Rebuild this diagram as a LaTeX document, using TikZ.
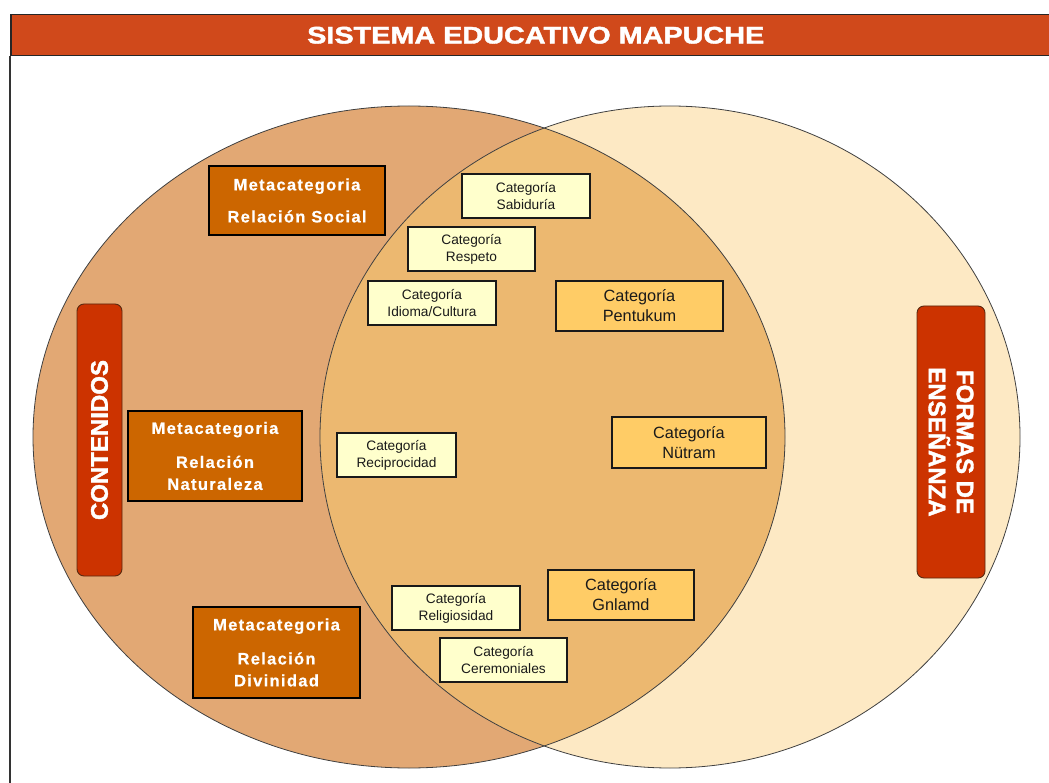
\documentclass[tikz,border=0pt]{standalone}
\usepackage{fontspec}
\setmainfont{Liberation Sans}
\newfontfamily\spacedfont[LetterSpace=8,BoldFeatures={FakeBold=0.6}]{Liberation Sans}
\newfontfamily\heavyfont[BoldFeatures={FakeBold=1.6}]{Liberation Sans}
\definecolor{hdrred}{HTML}{D0491B}
\definecolor{leftfill}{HTML}{E2A874}
\definecolor{rightfill}{HTML}{FDE9C4}
\definecolor{overfill}{HTML}{ECB870}
\definecolor{metafill}{HTML}{CC6600}
\definecolor{catfill}{HTML}{FFFFCC}
\definecolor{catyfill}{HTML}{FFCC66}
\definecolor{pillfill}{HTML}{CC3300}
\definecolor{pilledge}{HTML}{5A2A10}
\definecolor{txtdark}{HTML}{1A1A1A}
\begin{document}
\begin{tikzpicture}[x=1pt,y=-1pt,
  hdr/.style={draw=black!85,line width=1.5pt,fill=hdrred,text=white,inner sep=0pt,
    font=\heavyfont\bfseries\fontsize{24}{28}\selectfont},
  frameline/.style={draw=black!80,line width=1.5pt},
  circ/.style={draw=black!75,line width=0.8pt},
  meta/.style={draw=black,line width=1.3pt,fill=metafill,text=white,align=center,inner sep=0pt,
    font=\spacedfont\bfseries\fontsize{16.5}{22}\selectfont},
  cat/.style={draw=black!90,line width=1.3pt,fill=catfill,text=txtdark,align=center,inner sep=0pt,
    minimum height=44pt,font=\fontsize{13.7}{17}\selectfont},
  caty/.style={draw=black!90,line width=1.3pt,fill=catyfill,text=txtdark,align=center,inner sep=0pt,
    minimum height=50pt,font=\fontsize{16.3}{20}\selectfont},
  pill/.style={draw=pilledge,line width=0.9pt,fill=pillfill,text=white,rounded corners=7pt,
    align=center,inner sep=0pt,minimum width=272pt,font=\heavyfont\bfseries\fontsize{24}{28}\selectfont}
]
\useasboundingbox (0,0) rectangle (1049,783);
% circles
\fill[leftfill] (409,437) ellipse [x radius=376pt, y radius=331pt];
\fill[rightfill] (670,437) ellipse [x radius=350pt, y radius=331pt];
\begin{scope}
  \clip (409,437) ellipse [x radius=376pt, y radius=331pt];
  \fill[overfill] (670,437) ellipse [x radius=350pt, y radius=331pt];
\end{scope}
\draw[circ] (409,437) ellipse [x radius=376pt, y radius=331pt];
\draw[circ] (670,437) ellipse [x radius=350pt, y radius=331pt];
% header and frame
\node[hdr, anchor=north west, minimum width=1050pt, minimum height=41pt] (head) at (10,14)
  {\scalebox{1.2}[1]{SISTEMA EDUCATIVO MAPUCHE}};
\coordinate (framebottom) at (10,790);
\draw[frameline] (head.south west) -- (framebottom);
% metacategories
\node[meta, minimum width=176pt, minimum height=69pt] (social) at (297,200.5)
  {Metacategoria\\[10pt]Relación Social};
\node[meta, minimum width=174pt, minimum height=90pt] (natur) at (215,456)
  {Metacategoria\\[12pt]Relación\\Naturaleza};
\node[meta, minimum width=167pt, minimum height=91pt] (divin) at (276.5,652.5)
  {Metacategoria\\[12pt]Relación\\Divinidad};
% categories (light)
\node[cat, minimum width=128pt] (sabid) at (526,196) {Categoría\\Sabiduría};
\node[cat, minimum width=127pt] (resp) at (471.5,249) {Categoría\\Respeto};
\node[cat, minimum width=128pt] (idioma) at (432,303) {Categoría\\Idioma/Cultura};
\node[cat, minimum width=119pt] (recip) at (396.5,455) {Categoría\\Reciprocidad};
\node[cat, minimum width=128pt] (relig) at (456,608) {Categoría\\Religiosidad};
\node[cat, minimum width=127pt] (cerem) at (503.5,660) {Categoría\\Ceremoniales};
% categories (yellow)
\node[caty, minimum width=167pt] (pentu) at (639.5,306) {Categoría\\Pentukum};
\node[caty, minimum width=154pt, minimum height=51pt] (nutram) at (689,442.5) {Categoría\\Nütram};
\node[caty, minimum width=146pt] (gnlamd) at (621,595) {Categoría\\Gnlamd};
% pills
\node[pill, minimum height=45pt, rotate=90] (cont) at (99.5,440) {CONTENIDOS};
\node[pill, minimum height=68pt, rotate=-90] (formas) at (951,442) {FORMAS DE\\ENSEÑANZA};
\end{tikzpicture}
\end{document}
